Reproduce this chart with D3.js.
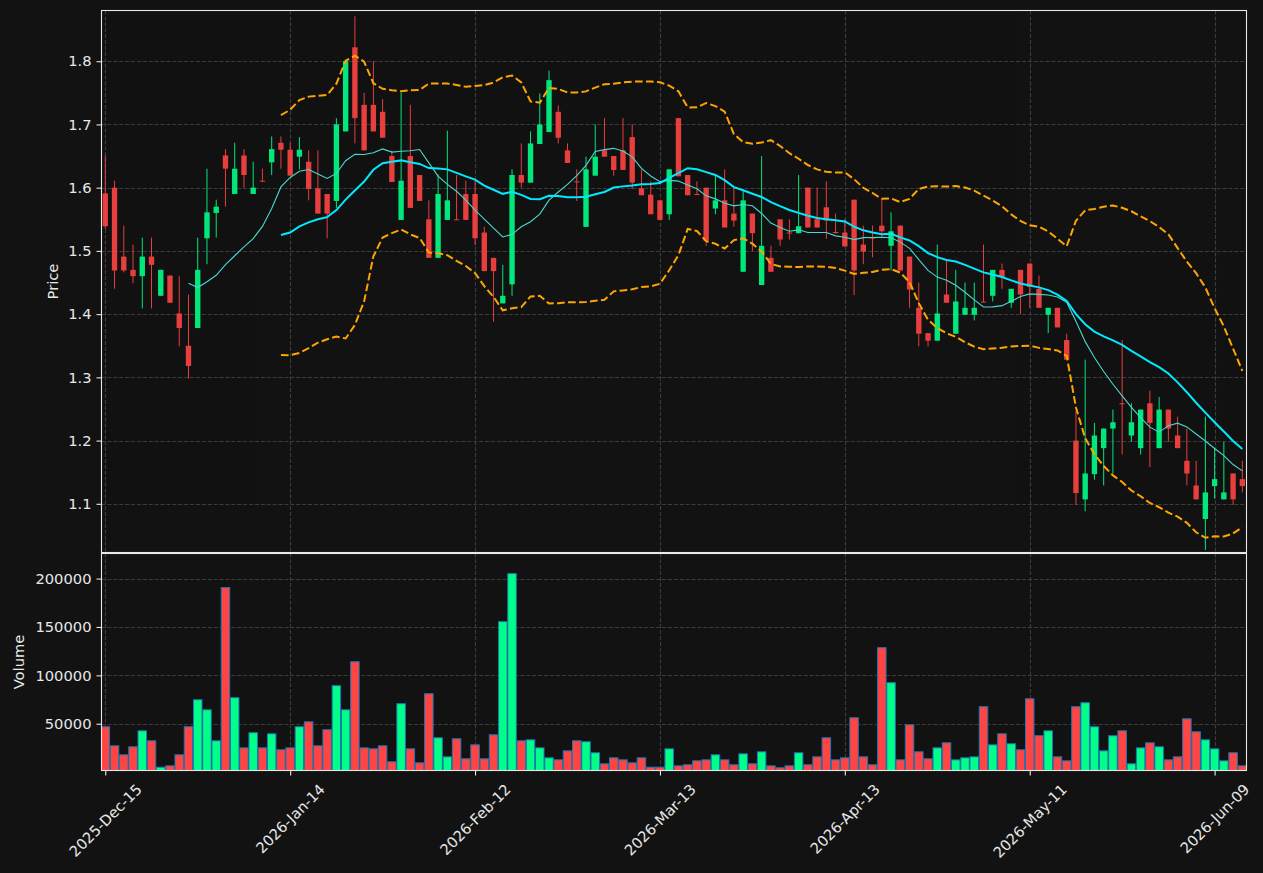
<!DOCTYPE html>
<html>
<head>
<meta charset="utf-8">
<script src="https://cdn.jsdelivr.net/npm/d3@7"></script>
<style>
  body { margin: 0; background: #121212; }
  text { font-family: "DejaVu Sans", sans-serif; }
</style>
</head>
<body>
<svg id="chart" width="1263" height="873"></svg>
<script>
// daily OHLC, one entry per trading day (index 0 = 2025-Dec-15)
const opens = [1.591,1.600,1.491,1.470,1.460,1.491,1.429,1.461,1.401,1.350,
  1.378,1.520,1.560,1.651,1.590,1.651,1.590,1.611,1.640,1.671,
  1.660,1.649,1.641,1.599,1.590,1.579,1.689,1.822,1.731,1.731,
  1.720,1.650,1.549,1.650,1.620,1.550,1.489,1.549,1.550,1.590,
  1.590,1.529,1.489,1.417,1.447,1.620,1.608,1.669,1.688,1.720,
  1.659,1.610,1.538,1.619,1.659,1.650,1.659,1.680,1.599,1.589,
  1.580,1.558,1.710,1.620,1.590,1.600,1.567,1.580,1.559,1.467,
  1.559,1.446,1.489,1.550,1.529,1.528,1.600,1.550,1.569,1.530,
  1.529,1.581,1.510,1.521,1.540,1.508,1.540,1.491,1.410,1.370,
  1.358,1.431,1.369,1.399,1.399,1.420,1.429,1.470,1.418,1.470,
  1.480,1.440,1.399,1.410,1.359,1.200,1.107,1.147,1.188,1.219,
  1.259,1.208,1.188,1.259,1.188,1.249,1.208,1.168,1.129,1.076,
  1.128,1.107,1.148,1.139];
const highs = [1.651,1.611,1.540,1.510,1.521,1.521,1.470,1.461,1.460,1.431,
  1.521,1.630,1.581,1.661,1.671,1.661,1.641,1.630,1.681,1.681,
  1.671,1.680,1.659,1.659,1.590,1.710,1.800,1.871,1.750,1.800,
  1.740,1.659,1.750,1.731,1.620,1.580,1.621,1.690,1.620,1.611,
  1.611,1.538,1.489,1.478,1.629,1.670,1.689,1.749,1.785,1.730,
  1.670,1.629,1.649,1.700,1.710,1.650,1.710,1.700,1.629,1.610,
  1.580,1.629,1.710,1.620,1.610,1.600,1.620,1.629,1.600,1.597,
  1.559,1.650,1.508,1.550,1.550,1.620,1.600,1.600,1.610,1.559,
  1.550,1.581,1.540,1.540,1.581,1.561,1.540,1.491,1.450,1.370,
  1.510,1.486,1.470,1.450,1.450,1.510,1.470,1.480,1.440,1.470,
  1.480,1.461,1.410,1.410,1.369,1.247,1.328,1.228,1.219,1.249,
  1.359,1.259,1.249,1.279,1.269,1.249,1.238,1.219,1.168,1.238,
  1.188,1.198,1.148,1.168];
const lows = [1.535,1.440,1.466,1.449,1.409,1.409,1.429,1.418,1.349,1.298,
  1.378,1.479,1.521,1.570,1.590,1.600,1.590,1.610,1.620,1.630,
  1.619,1.629,1.580,1.559,1.520,1.568,1.689,1.670,1.659,1.689,
  1.679,1.609,1.549,1.568,1.579,1.489,1.489,1.549,1.549,1.549,
  1.509,1.468,1.388,1.417,1.429,1.600,1.608,1.669,1.688,1.670,
  1.639,1.579,1.538,1.619,1.649,1.619,1.628,1.598,1.588,1.558,
  1.549,1.549,1.618,1.588,1.589,1.508,1.558,1.537,1.538,1.467,
  1.500,1.446,1.467,1.508,1.518,1.528,1.537,1.537,1.519,1.528,
  1.507,1.430,1.479,1.490,1.520,1.469,1.469,1.410,1.349,1.349,
  1.358,1.418,1.369,1.399,1.390,1.419,1.420,1.440,1.410,1.400,
  1.410,1.410,1.370,1.379,1.328,1.098,1.088,1.138,1.129,1.148,
  1.178,1.198,1.178,1.158,1.188,1.198,1.188,1.129,1.107,1.027,
  1.108,1.107,1.098,1.118];
const closes = [1.539,1.469,1.469,1.460,1.491,1.478,1.470,1.418,1.378,1.318,
  1.470,1.561,1.570,1.630,1.630,1.620,1.600,1.610,1.661,1.660,
  1.619,1.660,1.598,1.559,1.559,1.700,1.800,1.710,1.659,1.689,
  1.679,1.609,1.611,1.568,1.579,1.489,1.590,1.580,1.549,1.549,
  1.520,1.468,1.468,1.429,1.620,1.608,1.670,1.700,1.770,1.679,
  1.639,1.609,1.629,1.649,1.649,1.628,1.628,1.608,1.588,1.558,
  1.549,1.629,1.618,1.588,1.589,1.516,1.580,1.537,1.548,1.580,
  1.528,1.508,1.467,1.518,1.528,1.539,1.537,1.537,1.548,1.528,
  1.507,1.469,1.499,1.520,1.531,1.531,1.469,1.439,1.369,1.358,
  1.401,1.418,1.420,1.410,1.410,1.419,1.470,1.459,1.440,1.431,
  1.443,1.410,1.410,1.379,1.328,1.117,1.148,1.208,1.219,1.229,
  1.258,1.229,1.249,1.228,1.249,1.219,1.188,1.148,1.107,1.118,
  1.139,1.118,1.107,1.128];
const volumes = [46900,27200,17900,26200,42700,32400,5100,6500,17900,46900,
  74800,64400,32400,190700,76900,25100,40700,25100,39600,23100,
  25100,46900,52000,27200,43800,89300,64400,114100,25100,24100,
  27200,10700,70700,24100,9600,81000,35500,15800,34500,13800,
  28200,13800,38600,155500,205100,32400,33400,25100,14800,12700,
  22000,32400,31400,20000,8600,14800,12700,9600,14800,5100,
  5100,24100,6500,7600,11700,12700,17900,12700,7600,18900,
  8600,21000,6500,4500,6500,20000,7600,15800,35500,12700,
  14800,56200,15800,7600,128600,92400,12700,48900,21000,13800,
  25100,30300,12700,14800,15800,67600,28200,39600,29300,23100,
  75800,37600,42700,15800,11700,67600,71700,46900,22000,37600,
  42700,8600,25100,30300,26200,12700,15800,55100,41700,33400,
  24100,11700,20000,6500];

const tickIdx = [0, 20, 40, 60, 80, 100, 120];
const tickLabels = ["2025-Dec-15","2026-Jan-14","2026-Feb-12","2026-Mar-13","2026-Apr-13","2026-May-11","2026-Jun-09"];
const priceTicks = [1.1, 1.2, 1.3, 1.4, 1.5, 1.6, 1.7, 1.8];
const volTicks = [50000, 100000, 150000, 200000];

const UP = "#00ff88", DOWN = "#ff4444";
const FG = "#e8e8e8", GRID = "#3c3c3c";
const FS = 14.7;

const svg = d3.select("#chart");
svg.append("rect").attr("width", 1263).attr("height", 873).attr("fill", "#121212");

const left = 101.5, right = 1246.5;
const pTop = 10.5, pBot = 552.5, vTop = 553.5, vBot = 770.5;

const idx = d3.range(closes.length);
const x = d3.scaleLinear().domain([-0.41, 123.45]).range([left, right]);
const step = x(1) - x(0);
const yP = d3.scaleLinear().domain([1.023, 1.8802]).range([pBot, pTop]);
const yV = d3.scaleLinear().domain([1700, 225900]).range([vBot, vTop]);

// moving averages + bollinger from closes
function sma(arr, n) {
  return arr.map((d, i) => i < n - 1 ? null : d3.mean(arr.slice(i - n + 1, i + 1)));
}
function band(arr, n, k) {
  return arr.map((d, i) => {
    if (i < n - 1) return null;
    const w = arr.slice(i - n + 1, i + 1), m = d3.mean(w);
    const sd = Math.sqrt(d3.mean(w, v => (v - m) * (v - m)));
    return [m + k * sd, m - k * sd];
  });
}
const ma10 = sma(closes, 10);
const ma20 = sma(closes, 20);
const bb = band(closes, 20, 2);

svg.append("clipPath").attr("id", "clipP").append("rect")
  .attr("x", left).attr("y", pTop).attr("width", right - left).attr("height", pBot - pTop);
svg.append("clipPath").attr("id", "clipV").append("rect")
  .attr("x", left).attr("y", vTop).attr("width", right - left).attr("height", vBot - vTop);

// grid
const grid = svg.append("g").attr("stroke", GRID).attr("stroke-width", 1.1).attr("stroke-dasharray", "4.1,1.8");
grid.selectAll(".gx").data(tickIdx).join("line")
  .attr("x1", d => Math.round(x(d)) + 0.5).attr("x2", d => Math.round(x(d)) + 0.5)
  .attr("y1", pTop).attr("y2", vBot);
grid.selectAll(".gp").data(priceTicks).join("line")
  .attr("x1", left).attr("x2", right)
  .attr("y1", d => Math.round(yP(d)) + 0.5).attr("y2", d => Math.round(yP(d)) + 0.5);
grid.selectAll(".gv").data(volTicks).join("line")
  .attr("x1", left).attr("x2", right)
  .attr("y1", d => Math.round(yV(d)) + 0.5).attr("y2", d => Math.round(yV(d)) + 0.5);

// candles
const cg = svg.append("g").attr("clip-path", "url(#clipP)").attr("opacity", 0.9);
const col = i => closes[i] >= opens[i] ? UP : DOWN;
cg.selectAll("line.wick").data(idx).join("line")
  .attr("x1", i => x(i)).attr("x2", i => x(i))
  .attr("y1", i => yP(highs[i])).attr("y2", i => yP(lows[i]))
  .attr("stroke", col).attr("stroke-width", 1);
const bw = step * 0.58;
cg.selectAll("rect.body").data(idx).join("rect")
  .attr("x", i => x(i) - bw / 2).attr("width", bw)
  .attr("y", i => yP(Math.max(opens[i], closes[i])))
  .attr("height", i => Math.max(1, Math.abs(yP(opens[i]) - yP(closes[i]))))
  .attr("fill", col);

// lines
const lg = svg.append("g").attr("clip-path", "url(#clipP)").attr("fill", "none");
const line = d3.line().defined(d => d[1] != null).x(d => x(d[0])).y(d => yP(d[1]));
lg.append("path").attr("d", line(idx.map(i => [i, ma10[i]])))
  .attr("stroke", "#48d8d0").attr("stroke-width", 1.1);
lg.append("path").attr("d", line(idx.map(i => [i, ma20[i]])))
  .attr("stroke", "#00eaff").attr("stroke-width", 2);
lg.append("path").attr("d", line(idx.map(i => [i, bb[i] && bb[i][0]])))
  .attr("stroke", "#ffa500").attr("stroke-width", 2).attr("stroke-dasharray", "7.7,3.3");
lg.append("path").attr("d", line(idx.map(i => [i, bb[i] && bb[i][1]])))
  .attr("stroke", "#ffa500").attr("stroke-width", 2).attr("stroke-dasharray", "7.7,3.3");

// volume
const vg = svg.append("g").attr("clip-path", "url(#clipV)");
const vw = step * 0.92;
vg.selectAll("rect").data(idx).join("rect")
  .attr("x", i => x(i) - vw / 2).attr("width", vw)
  .attr("y", i => yV(volumes[i])).attr("height", i => vBot - yV(volumes[i]))
  .attr("fill", col).attr("stroke", "#1f77b4").attr("stroke-width", 1);

// frames
const fr = svg.append("g").attr("fill", "none").attr("stroke", FG).attr("stroke-width", 1.1);
fr.append("rect").attr("x", left).attr("y", pTop).attr("width", right - left).attr("height", pBot - pTop);
fr.append("rect").attr("x", left).attr("y", vTop).attr("width", right - left).attr("height", vBot - vTop);

// axes
function styleAxis(g) {
  g.select(".domain").remove();
  g.selectAll(".tick line").attr("stroke", FG).attr("stroke-width", 1.1);
  g.selectAll(".tick text").attr("fill", FG).attr("font-size", FS).attr("font-family", "DejaVu Sans");
}
svg.append("g").attr("transform", `translate(${left},0)`)
  .call(d3.axisLeft(yP).tickValues(priceTicks).tickSize(5).tickPadding(5).tickFormat(d3.format(".1f")))
  .call(styleAxis);
svg.append("g").attr("transform", `translate(${left},0)`)
  .call(d3.axisLeft(yV).tickValues(volTicks).tickSize(5).tickPadding(5).tickFormat(d3.format("d")))
  .call(styleAxis);
svg.append("g").attr("transform", `translate(0,${vBot})`)
  .call(d3.axisBottom(x).tickValues(tickIdx).tickSize(5).tickFormat(""))
  .call(styleAxis);

// rotated date labels, centred under each tick
const xl = svg.append("g");
tickIdx.forEach((t, k) => {
  const tx = xl.append("text").attr("fill", FG).attr("font-size", FS)
    .attr("text-anchor", "middle").attr("dominant-baseline", "central").text(tickLabels[k]);
  const L = tx.node().getComputedTextLength();
  const h = FS * 1.16;
  const Hh = (L + h) * Math.SQRT1_2;
  tx.attr("transform", `translate(${x(t)},${vBot + 10 + Hh / 2}) rotate(-45)`);
});

svg.append("text").attr("transform", `translate(52,${(pTop + pBot) / 2}) rotate(-90)`)
  .attr("text-anchor", "middle").attr("dominant-baseline", "central")
  .attr("fill", FG).attr("font-size", FS).text("Price");
svg.append("text").attr("transform", `translate(18,${(vTop + vBot) / 2}) rotate(-90)`)
  .attr("text-anchor", "middle").attr("dominant-baseline", "central")
  .attr("fill", FG).attr("font-size", FS).text("Volume");
</script>
</body>
</html>
